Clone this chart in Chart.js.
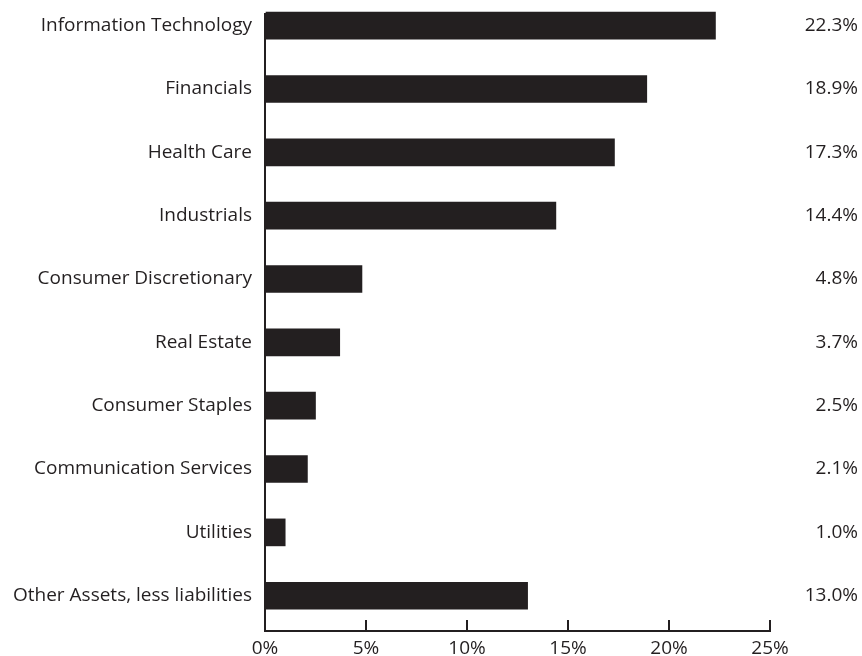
<!DOCTYPE html>
<html>
<head>
<meta charset="utf-8">
<script src="https://cdn.jsdelivr.net/npm/chart.js@4"></script>
<style>
    html, body { margin: 0; padding: 0; background: #ffffff; }
    #wrap { width: 862px; height: 656px; }
</style>
</head>
<body>
<div id="wrap"><canvas id="sector-chart"></canvas></div>
<script>
const SECTORS = [
    'Information Technology',
    'Financials',
    'Health Care',
    'Industrials',
    'Consumer Discretionary',
    'Real Estate',
    'Consumer Staples',
    'Communication Services',
    'Utilities',
    'Other Assets, less liabilities',
];

const WEIGHTS = [22.3, 18.9, 17.3, 14.4, 4.8, 3.7, 2.5, 2.1, 1.0, 13.0];

const X_TICKS = [0, 5, 10, 15, 20, 25];

const INK = '#231f20';
const FONT = { family: '"Open Sans", sans-serif', size: 19 };

// ── Etiquetas de porcentaje a la derecha ──
const valueLabels = {
    id: 'valueLabels',
    afterDatasetsDraw(chart) {
        const { ctx } = chart;
        const meta = chart.getDatasetMeta(0);
        ctx.save();
        ctx.font = `${FONT.size}px ${FONT.family}`;
        ctx.fillStyle = INK;
        ctx.textAlign = 'right';
        ctx.textBaseline = 'middle';
        meta.data.forEach((bar, i) => {
            ctx.fillText(`${WEIGHTS[i].toFixed(1)}%`, chart.width - 4, bar.y);
        });
        ctx.restore();
    }
};

new Chart(document.getElementById('sector-chart'), {
    type: 'bar',
    data: {
        datasets: [{
            data: WEIGHTS.map((v, i) => ({ x: v, y: i })),
            backgroundColor: INK,
            borderWidth: 0,
            barThickness: 27,
            clip: false,
        }]
    },
    options: {
        indexAxis: 'y',
        responsive: true,
        maintainAspectRatio: false,
        animation: false,
        layout: { padding: { top: 12, right: 92, left: 0, bottom: 0 } },
        plugins: {
            legend: { display: false },
            tooltip: { enabled: false },
        },
        scales: {
            x: {
                type: 'linear',
                position: 'bottom',
                min: 0,
                max: 25,
                afterBuildTicks: s => { s.ticks = X_TICKS.map(v => ({ value: v })); },
                afterFit: s => { s.height = 25; },
                grid: { drawOnChartArea: false, drawTicks: true, tickLength: -11, color: INK, lineWidth: 2 },
                border: { display: true, color: INK, width: 2 },
                ticks: { color: INK, font: FONT, padding: 17, maxRotation: 0, callback: v => `${v}%` },
            },
            y: {
                type: 'linear',
                reverse: true,
                offset: false,
                min: -0.185,
                max: 9.557,
                afterBuildTicks: s => { s.ticks = SECTORS.map((_, i) => ({ value: i })); },
                afterFit: s => { s.width = 265; },
                grid: { display: true, offset: false, drawOnChartArea: false, drawTicks: false },
                border: { display: true, color: INK, width: 2 },
                // lineHeight bajo para que las etiquetas no empujen el área del gráfico
                ticks: { color: INK, font: { ...FONT, lineHeight: 0.1 }, padding: 13, callback: v => SECTORS[v] },
            }
        }
    },
    plugins: [valueLabels]
});
</script>
</body>
</html>
